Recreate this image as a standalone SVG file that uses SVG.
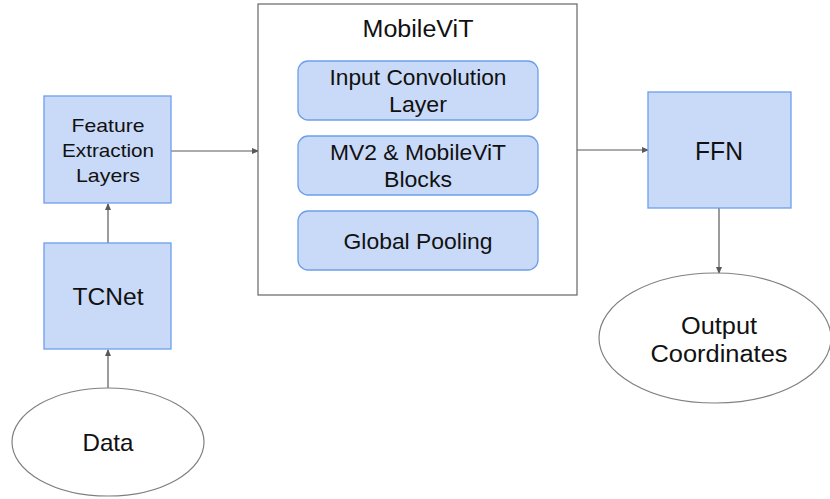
<svg xmlns="http://www.w3.org/2000/svg" width="830" height="499" viewBox="0 0 830 499">
  <defs>
    <marker id="arrow" markerWidth="7" markerHeight="6" refX="6" refY="3" orient="auto" markerUnits="userSpaceOnUse">
      <path d="M0,0 L7,3 L0,6 z" fill="#595959"/>
    </marker>
    <style>
      .block { fill: #c9daf8; stroke: #6d9eeb; stroke-width: 1.3; }
      .frame { fill: #ffffff; stroke: #666666; stroke-width: 1.2; }
      .oval { fill: #ffffff; stroke: #808080; stroke-width: 1.2; }
      .edge { fill: none; stroke: #595959; stroke-width: 1.2; marker-end: url(#arrow); }
      text { font-family: "Liberation Sans", Arial, sans-serif; fill: #111111; text-anchor: middle; }
    </style>
  </defs>

  <rect width="830" height="499" fill="#ffffff"/>

  <!-- connectors -->
  <g id="connectors">
    <line class="edge" x1="108" y1="388" x2="108" y2="350"/>
    <line class="edge" x1="108" y1="243" x2="108" y2="204"/>
    <line class="edge" x1="171" y1="151" x2="258" y2="151"/>
    <line class="edge" x1="577" y1="150" x2="648" y2="150"/>
    <line class="edge" x1="719" y1="208" x2="719" y2="273"/>
  </g>

  <!-- input data -->
  <g id="data">
    <ellipse class="oval" cx="108" cy="442" rx="96" ry="54"/>
    <text x="108" y="451" font-size="24" textLength="51" lengthAdjust="spacingAndGlyphs">Data</text>
  </g>

  <!-- TCNet -->
  <g id="tcnet">
    <rect class="block" x="44" y="243" width="127" height="106"/>
    <text x="108" y="305" font-size="24" textLength="71" lengthAdjust="spacingAndGlyphs">TCNet</text>
  </g>

  <!-- feature extraction -->
  <g id="feature-extraction">
    <rect class="block" x="44" y="96" width="127" height="107"/>
    <text x="108" y="132" font-size="19" textLength="73" lengthAdjust="spacingAndGlyphs">Feature</text>
    <text x="108" y="157" font-size="19" textLength="92" lengthAdjust="spacingAndGlyphs">Extraction</text>
    <text x="108" y="182" font-size="19" textLength="64" lengthAdjust="spacingAndGlyphs">Layers</text>
  </g>

  <!-- MobileViT container -->
  <g id="mobilevit">
    <rect class="frame" x="258" y="4" width="319" height="291"/>
    <text x="418" y="37" font-size="23" textLength="111" lengthAdjust="spacingAndGlyphs">MobileViT</text>
  </g>

  <g id="input-conv">
    <rect class="block" x="298" y="61" width="240" height="59" rx="10"/>
    <text x="418" y="85" font-size="22" textLength="177" lengthAdjust="spacingAndGlyphs">Input Convolution</text>
    <text x="418" y="112" font-size="22" textLength="58" lengthAdjust="spacingAndGlyphs">Layer</text>
  </g>

  <g id="mv2-blocks">
    <rect class="block" x="298" y="136" width="240" height="59" rx="10"/>
    <text x="418" y="160" font-size="22" textLength="176" lengthAdjust="spacingAndGlyphs">MV2 &amp; MobileViT</text>
    <text x="418" y="187" font-size="22" textLength="68" lengthAdjust="spacingAndGlyphs">Blocks</text>
  </g>

  <g id="global-pooling">
    <rect class="block" x="298" y="211" width="240" height="59" rx="10"/>
    <text x="418" y="249" font-size="22" textLength="149" lengthAdjust="spacingAndGlyphs">Global Pooling</text>
  </g>

  <!-- FFN head -->
  <g id="ffn">
    <rect class="block" x="648" y="92" width="143" height="116"/>
    <text x="719" y="160" font-size="25" textLength="48" lengthAdjust="spacingAndGlyphs">FFN</text>
  </g>

  <!-- output -->
  <g id="output">
    <ellipse class="oval" cx="715" cy="338" rx="116" ry="65"/>
    <text x="719" y="334" font-size="23" textLength="76" lengthAdjust="spacingAndGlyphs">Output</text>
    <text x="719" y="362" font-size="23" textLength="137" lengthAdjust="spacingAndGlyphs">Coordinates</text>
  </g>
</svg>
